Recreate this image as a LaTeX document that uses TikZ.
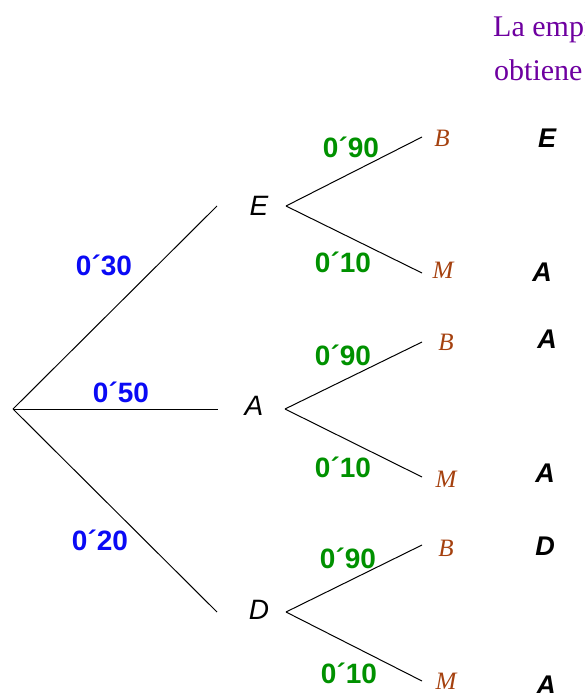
\documentclass[tikz,border=0pt]{standalone}
\usepackage{fontspec}
\setmainfont{Liberation Serif}
\setsansfont{Liberation Sans}
\definecolor{probblue}{RGB}{10,10,245}
\definecolor{probgreen}{RGB}{0,145,0}
\definecolor{leafbrown}{RGB}{165,65,15}
\definecolor{notepurple}{RGB}{110,0,160}
\tikzset{
  branch/.style={draw=black, line width=1pt},
  stage/.style={font=\sffamily\itshape\fontsize{28}{30}\selectfont, anchor=base, inner sep=0pt},
  leaf/.style={font=\rmfamily\itshape\fontsize{25}{27}\selectfont, text=leafbrown, anchor=base, inner sep=0pt},
  result/.style={font=\sffamily\bfseries\itshape\fontsize{27}{29}\selectfont, anchor=base, inner sep=0pt},
  plevel/.style={font=\sffamily\bfseries\fontsize{28}{30}\selectfont, text=probblue, anchor=base, inner sep=0pt},
  qlevel/.style={font=\sffamily\bfseries\fontsize{28}{30}\selectfont, text=probgreen, anchor=base, inner sep=0pt},
  note/.style={font=\rmfamily\fontsize{30}{32}\selectfont, text=notepurple, anchor=base west, inner sep=0pt}
}
\begin{document}
\begin{tikzpicture}[x=1pt,y=-1pt]
  \useasboundingbox (0,0) rectangle (585,693);
  \clip (0,0) rectangle (585,693);

  % side note, running off the right edge
  \node[note] (n1) at (493,37) {La empresa};
  \node[note] (n2) at (494,81) {obtiene un};

  % first stage
  \coordinate (root) at (13,409);
  \coordinate (eE) at (217,206);
  \coordinate (eA) at (218,409);
  \coordinate (eD) at (217,612);
  \draw[branch] (root) -- (eE);
  \draw[branch] (root) -- (eA);
  \draw[branch] (root) -- (eD);

  \node[stage] (E) at (259,215) {E};
  \node[stage] (A) at (254,415) {A};
  \node[stage] (D) at (259,619) {D};

  \node[plevel] (p1) at (104,275) {0´30};
  \node[plevel] (p2) at (121,402) {0´50};
  \node[plevel] (p3) at (100,550) {0´20};

  % second stage
  \coordinate (jE) at (286,206);
  \coordinate (jA) at (285,409);
  \coordinate (jD) at (286,612);
  \coordinate (eEB) at (422,137);
  \coordinate (eEM) at (422,273);
  \coordinate (eAB) at (422,342);
  \coordinate (eAM) at (422,477);
  \coordinate (eDB) at (422,545);
  \coordinate (eDM) at (422,681);
  \draw[branch] (jE) -- (eEB);
  \draw[branch] (jE) -- (eEM);
  \draw[branch] (jA) -- (eAB);
  \draw[branch] (jA) -- (eAM);
  \draw[branch] (jD) -- (eDB);
  \draw[branch] (jD) -- (eDM);

  \node[qlevel] (q1) at (351,157) {0´90};
  \node[qlevel] (q2) at (343,272) {0´10};
  \node[qlevel] (q3) at (343,365) {0´90};
  \node[qlevel] (q4) at (343,477) {0´10};
  \node[qlevel] (q5) at (348,568) {0´90};
  \node[qlevel] (q6) at (349,683) {0´10};

  \node[leaf] (EB) at (442,146) {B};
  \node[leaf] (EM) at (443,278) {M};
  \node[leaf] (AB) at (446,350) {B};
  \node[leaf] (AM) at (446,487) {M};
  \node[leaf] (DB) at (446,556) {B};
  \node[leaf] (DM) at (446,689) {M};

  % outcomes
  \node[result] (r1) at (547,147) {E};
  \node[result] (r2) at (542,281) {A};
  \node[result] (r3) at (547,348) {A};
  \node[result] (r4) at (545,482) {A};
  \node[result] (r5) at (545,555) {D};
  \node[result] (r6) at (546,694) {A};
\end{tikzpicture}
\end{document}
